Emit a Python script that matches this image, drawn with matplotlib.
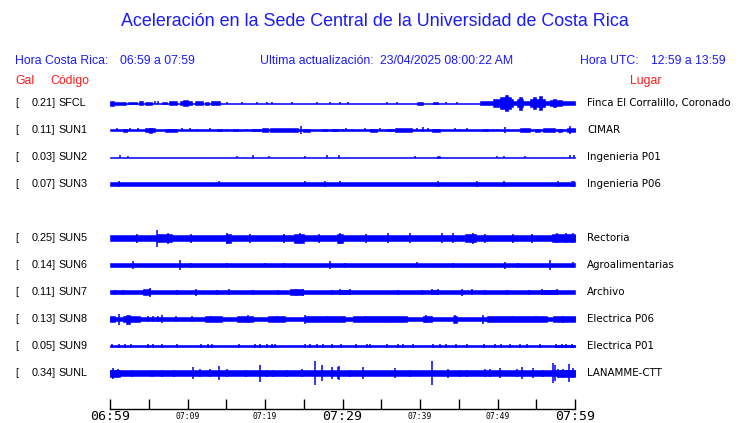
import numpy as np
import matplotlib
matplotlib.use("Agg")
import matplotlib.pyplot as plt
import matplotlib.transforms as mtransforms

# ---------------- data ----------------
codes = ["SFCL", "SUN1", "SUN2", "SUN3", "SUN5", "SUN6", "SUN7", "SUN8", "SUN9", "SUNL"]
gal = ["0.21", "0.11", "0.03", "0.07", "0.25", "0.14", "0.11", "0.13", "0.05", "0.34"]
places = ["Finca El Corralillo, Coronado", "CIMAR", "Ingenieria P01", "Ingenieria P06",
          "Rectoria", "Agroalimentarias", "Archivo", "Electrica P06", "Electrica P01", "LANAMME-CTT"]
slots = [0, 1, 2, 3, 5, 6, 7, 8, 9, 10]
time_labels = ["06:59", "07:09", "07:19", "07:29", "07:39", "07:49", "07:59"]

# background (noise) half-amplitude of each trace, relative units
base_amp = [0.5, 0.6, 0.5, 2.1, 3.2, 1.8, 1.8, 2.4, 0.8, 2.7]

# bursts: (start minute, end minute, half-amplitude)
bur_SFCL = [(0, 0.5, 2.5), (0.5, 2.0, 1.5), (2.3, 3.5, 1.3), (3.8, 4.2, 1.8), (4.5, 5.4, 1.5),
            (6.7, 7.4, 1.3), (7.6, 8.6, 1.6), (9.0, 10.6, 2.2), (9.4, 10.0, 3.2), (11.0, 12.0, 2.0),
            (12.3, 12.8, 1.5), (13.0, 14.2, 1.7), (39.6, 40.4, 1.5), (41.7, 42.3, 1.0),
            (47.7, 60, 2.0), (49.4, 52, 4), (50.3, 51.8, 6), (51.0, 51.4, 7.5), (52.5, 53.3, 4),
            (52.8, 53.1, 6.5), (54.2, 56.1, 4), (54.6, 55.0, 6), (55.3, 55.8, 7), (56.8, 58.3, 3),
            (57.2, 57.6, 4)]
bur_SUN1 = [(1.7, 2.2, 1.5), (4.5, 5.8, 1.7), (5.0, 5.4, 2.5), (7.1, 8.6, 1.5), (13.8, 14.5, 1.3),
            (15.9, 16.5, 1.3), (18.3, 19.4, 1.3), (19.6, 20.4, 1.7), (20.6, 24.3, 1.6),
            (24.9, 25.8, 1.5), (27.4, 28, 1.3), (28.6, 29.4, 1.3), (33.5, 34.4, 1.5),
            (35.7, 36.5, 1.3), (36.8, 39.0, 1.7), (41.5, 42.6, 1.5), (48.1, 48.8, 1.3),
            (52.9, 54.2, 1.6), (54.8, 55.5, 1.5), (55.9, 57.4, 1.6), (57.8, 58.3, 1.5), (59, 60, 1.8)]
bur_SUN2 = [(42.2, 42.6, 1.3)]
bur_SUN3 = []
bur_SUN5 = [(6, 8, 4), (15, 15.6, 4.5), (23.8, 25, 4.5), (29.3, 30, 4.5), (45.8, 47.2, 4.2),
            (57, 60, 4)]
bur_SUN6 = []
bur_SUN7 = [(4.3, 5.2, 2.6), (23.2, 24.9, 2.6), (29.7, 31, 2.4), (41.5, 42.3, 2.4), (55.7, 57.7, 2.4)]
bur_SUN8 = [(0, 0.6, 3), (1.7, 3.9, 3.2), (2.1, 2.6, 4.5), (12.3, 14.5, 2.7), (16.4, 18.5, 2.9),
            (20.4, 22.6, 2.7), (25.2, 30.3, 2.7), (31.4, 36.1, 2.7), (36.1, 38.3, 2.9),
            (40.4, 41.5, 3.2), (44.3, 44.8, 3.5), (48.6, 56.4, 2.8), (57.2, 60, 3.0)]
bur_SUN9 = [(57.6, 60, 1.3)]
bur_SUNL = [(0, 1.3, 3.5), (57.8, 60, 3.5)]

# isolated spikes: (minute, half-amplitude)
spk_SFCL = [(15.1, 1.2), (17, 1.2), (19, 1.2), (20.2, 1.2), (20.9, 1.2), (23.5, 1.2), (26.7, 1.2),
            (28.4, 1), (29.7, 1.2), (30.7, 1.2), (35.7, 1.2), (37, 1.2), (43.4, 1.2), (44.8, 1.2),
            (5.8, 1.5), (6.2, 1.5)]
spk_SUN1 = [(0.9, 1.5), (2.6, 1.5), (3.6, 1.5), (9.3, 1.5), (10.3, 1.5), (11.2, 1.3), (12.9, 1.5),
            (15.1, 1.3), (17.7, 1.3), (24.6, 4), (30, 1.3), (30.5, 1.5), (31.2, 1.3), (32.9, 1.5),
            (34.8, 1.5), (39.6, 1.5), (40.4, 2.5), (41, 1.5), (44.5, 1.5), (45.2, 1.3), (46, 1.5),
            (49.4, 1.3), (49.9, 1.3), (51, 3), (59.4, 4)]
spk_SUN2 = [(1.3, 1.5), (2.3, 1.2), (16.4, 1.2), (18.4, 1.5), (20.5, 1), (25.2, 1.2), (28, 1.5),
            (29.5, 1.5), (39.4, 1.2), (49.9, 1.2), (50.8, 1.2), (53.5, 1), (59.4, 1.5), (59.9, 1.5)]
spk_SUN3 = [(1.2, 2.8), (14, 2.5), (25.2, 2.5), (27.7, 2.8), (29.7, 2.5), (42.3, 2.6), (47.3, 2.6),
            (50.8, 2.8), (57.8, 2.6), (59.6, 2.8), (59.9, 2.8)]
spk_SUN5 = [(6.1, 8.5), (7.5, 5.5), (15.1, 5.5), (22.4, 4.5), (24.5, 5.5), (29.7, 5.5), (35.9, 5),
            (38.7, 5), (42.8, 5), (44.3, 5), (46.8, 5.5), (48.4, 4.5), (57.7, 5), (58.8, 5),
            (59.7, 5), (3.5, 4.5), (10.5, 4.5), (18, 4.5), (27, 4.5), (33, 4.5), (52, 4.5), (54.5, 4.5)]
spk_SUN6 = [(3.0, 4), (9.0, 5), (10.5, 2.5), (15.1, 2.5), (20, 2.3), (22.4, 2.5), (28.4, 4),
            (30.3, 2.5), (39.6, 3), (44.3, 2.5), (51, 3.5), (52.7, 2.5), (56.8, 5), (59.8, 2.8)]
spk_SUN7 = [(0.6, 2.5), (1.7, 2.5), (5.1, 4.5), (8.6, 2.5), (11.1, 3.5), (13.8, 2.5), (15.3, 3),
            (18.5, 2.5), (21.7, 2.5), (24, 3.5), (24.9, 3.5), (28.6, 2.5), (29.7, 3), (31, 3),
            (37.2, 2.5), (40.3, 2.5), (41.5, 3), (42.3, 3), (45.4, 3.5), (46.7, 3), (48.4, 2.5),
            (51.2, 2.5), (54, 2.5), (55.7, 3), (57.7, 3)]
spk_SUN8 = [(1.2, 5.5), (4.9, 3), (5.5, 3), (6.2, 3), (6.7, 4), (8.5, 3), (10.6, 3), (17.8, 4),
            (25.2, 4.5), (48.1, 4.5), (44.5, 4), (40.8, 4), (13, 3.2), (21.5, 3.2), (28, 3.2),
            (33, 3.2), (52, 3.2), (55, 3.2), (58.5, 3.5)]
spk_SUN9 = [(m, 2) for m in [0.2, 1.1, 1.9, 2.7, 4.9, 5.6, 6.7, 8.6, 11.8, 12.7, 13.1, 16.6, 18.7,
                             19.4, 20.2, 20.9, 21.3, 25.2, 25.8, 26.7, 27.5, 28.6, 29.8, 31.8, 33.1,
                             33.5, 35.7, 37.2, 37.8, 39.1, 41.7, 42.6, 43.4, 44.6, 46.0, 48.2, 49.7,
                             50.5, 51.6, 52.9, 53.8, 55.5, 57.6, 58.3, 58.9, 59.6]]
spk_SUNL = [(0.4, 5.5), (1, 4), (2.8, 3.5), (5.4, 3.5), (6.7, 3.5), (8.2, 3.5), (10.7, 6), (11.6, 4),
            (12.9, 4), (14, 7), (15.1, 4), (17.6, 3.5), (19.4, 8.5), (20.2, 3.5), (21, 3.5),
            (22.8, 3.5), (24.8, 4), (26.4, 12), (27.3, 8), (28.6, 6), (29.4, 6), (29.6, 7),
            (31, 3.5), (32.7, 6), (36.8, 5), (38.7, 3.5), (41.5, 12), (43.6, 4.5), (45.2, 3.5),
            (46, 3.5), (48.4, 4), (49, 4), (50.3, 5), (52.5, 4), (53.2, 6), (54.6, 5), (55.9, 3.5),
            (57.2, 10), (57.4, 8), (57.8, 4.5), (58.5, 4.5), (59.2, 9), (59.7, 5)]

bursts = [bur_SFCL, bur_SUN1, bur_SUN2, bur_SUN3, bur_SUN5, bur_SUN6, bur_SUN7, bur_SUN8, bur_SUN9, bur_SUNL]
spikes = [spk_SFCL, spk_SUN1, spk_SUN2, spk_SUN3, spk_SUN5, spk_SUN6, spk_SUN7, spk_SUN8, spk_SUN9, spk_SUNL]

# ---------------- figure ----------------
W, H = 740, 423
fig = plt.figure(figsize=(W / 100, H / 100), dpi=100)
fig.patch.set_facecolor("white")

def px(x, y):
    return x / W, 1 - y / H

BLUE = "#0000ff"
TBLUE = "#1a1aff"
RED = "#ff1a1a"
SANS = "Liberation Sans"

ax_top, ax_bot = 88, 409
ax = fig.add_axes([110 / W, 1 - ax_bot / H, 465 / W, (ax_bot - ax_top) / H])
ax.set_xlim(0, 60)
ax.set_ylim(ax_bot, ax_top)  # y in pixel-like units, downward
for s in ["top", "left", "right"]:
    ax.spines[s].set_visible(False)
ax.spines["bottom"].set_linewidth(1.0)
ax.set_yticks([])
ax.set_xticks(np.arange(0, 61, 5))
ax.set_xticklabels([])
ax.tick_params(axis="x", direction="in", length=7.5, width=1.0)
ax.patch.set_alpha(0)

first_center, spacing = 103, 27
for i, (slot, b, bur, spk) in enumerate(zip(slots, base_amp, bursts, spikes)):
    c = first_center + spacing * slot
    ax.fill_between([0, 60], c - b, c + b, color=BLUE, lw=0.4)
    for (m0, m1, a) in bur:
        ax.fill_between([m0, m1], c - a, c + a, color=BLUE, lw=0.4)
    if spk:
        sm = [s[0] for s in spk]
        sa = np.array([s[1] for s in spk])
        ax.vlines(sm, c - sa, c + sa, color=BLUE, lw=1.1)
    # left labels
    fig.text(*px(15, c), "[", fontsize=7.8, family=SANS, va="center", ha="left")
    fig.text(*px(55.5, c), f"{gal[i]}]", fontsize=7.8, family=SANS, va="center", ha="right")
    fig.text(*px(58, c), codes[i], fontsize=7.8, family=SANS, va="center", ha="left")
    fig.text(*px(587, c), places[i], fontsize=7.4, family="DejaVu Sans", va="center", ha="left")

# time axis labels
blend = mtransforms.blended_transform_factory(ax.transData, fig.transFigure)
for k, lab in enumerate(time_labels):
    big = k in (0, 3, 6)
    ax.text(k * 10, 1 - 416 / H, lab, transform=blend, ha="center", va="center",
            fontsize=9.5 if big else 5.8, family="DejaVu Sans Mono", clip_on=False)

# titles / headers
fig.text(*px(375, 22), "Aceleración en la Sede Central de la Universidad de Costa Rica",
         fontsize=12.9, color=TBLUE, family=SANS, ha="center", va="center")
fig.text(*px(15, 61), "Hora Costa Rica:", fontsize=8.8, color=TBLUE, family=SANS, va="center")
fig.text(*px(120, 61), "06:59 a 07:59", fontsize=8.8, color=TBLUE, family=SANS, va="center")
fig.text(*px(260, 61), "Ultima actualización:", fontsize=8.8, color=TBLUE, family=SANS, va="center")
fig.text(*px(380, 61), "23/04/2025 08:00:22 AM", fontsize=8.8, color=TBLUE, family=SANS, va="center")
fig.text(*px(580, 61), "Hora UTC:", fontsize=8.8, color=TBLUE, family=SANS, va="center")
fig.text(*px(651, 61), "12:59 a 13:59", fontsize=8.8, color=TBLUE, family=SANS, va="center")
fig.text(*px(15, 81), "Gal", fontsize=8.8, color=RED, family=SANS, va="center")
fig.text(*px(50, 81), "Código", fontsize=8.8, color=RED, family=SANS, va="center")
fig.text(*px(630, 81), "Lugar", fontsize=8.8, color=RED, family=SANS, va="center")

fig.savefig("out.png", dpi=100, facecolor="white")
